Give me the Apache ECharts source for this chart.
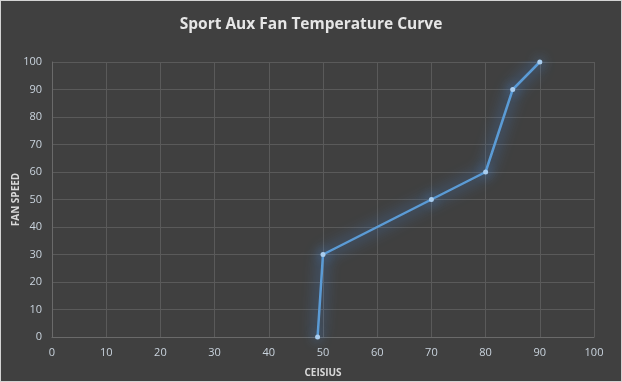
<!DOCTYPE html>
<html><head><meta charset="utf-8">
<script src="https://cdn.jsdelivr.net/npm/echarts@6/dist/echarts.min.js"></script>
<style>html,body{margin:0;padding:0;background:#404040;}#c{width:620px;height:380px;border:1px solid #d4d4d4;background:#404040;}</style>
</head><body><div id="c"></div>
<script>
const titleText = 'Sport Aux Fan Temperature Curve';
const xName = 'CEISIUS';
const yName = 'FAN SPEED';
const celsius = [49, 50, 70, 80, 85, 90];
const fanSpeed = [0, 30, 50, 60, 90, 100];

const chart = echarts.init(document.getElementById('c'));
const labelColor = '#c9d3dd';
chart.setOption({
  backgroundColor: '#404040',
  animation: false,
  title: { text: titleText, left: 'center', top: 11,
    textStyle: { color: '#e6e6e6', fontSize: 15.5, fontWeight: 'bold', fontFamily: 'Open Sans' } },
  grid: { left: 51, right: 27, top: 61, bottom: 44, outerBoundsMode: 'none', containLabel: false },
  xAxis: { type: 'value', min: 0, max: 100, interval: 10,
    name: xName, nameLocation: 'middle', nameGap: 31, nameMoveOverlap: false,
    nameTextStyle: { color: '#d9d9d9', fontWeight: 'bold', fontSize: 10, fontFamily: 'Open Sans' },
    axisLine: { show: true, lineStyle: { color: '#6a6a6a' } }, axisTick: { show: false },
    axisLabel: { color: labelColor, fontSize: 11, margin: 10, fontFamily: 'Open Sans' },
    splitLine: { show: true, lineStyle: { color: '#5a5a5a' } } },
  yAxis: { type: 'value', min: 0, max: 100, interval: 10,
    name: yName, nameLocation: 'middle', nameGap: 31, nameMoveOverlap: false,
    nameTextStyle: { color: '#d9d9d9', fontWeight: 'bold', fontSize: 10, fontFamily: 'Open Sans' },
    axisLine: { show: true, lineStyle: { color: '#6a6a6a' } }, axisTick: { show: false },
    axisLabel: { color: labelColor, fontSize: 11, margin: 10, fontFamily: 'Open Sans' },
    splitLine: { show: true, lineStyle: { color: '#5a5a5a' } } },
  series: [{ type: 'line', data: celsius.map((c, i) => [c, fanSpeed[i]]),
    symbol: 'circle', symbolSize: 5,
    itemStyle: { color: '#a9cdef', shadowBlur: 12, shadowColor: 'rgba(80,160,255,1)' },
    lineStyle: { color: '#5b9bd5', width: 2.5, shadowBlur: 15, shadowColor: 'rgba(70,150,255,1)' } }]
});
</script></body></html>
